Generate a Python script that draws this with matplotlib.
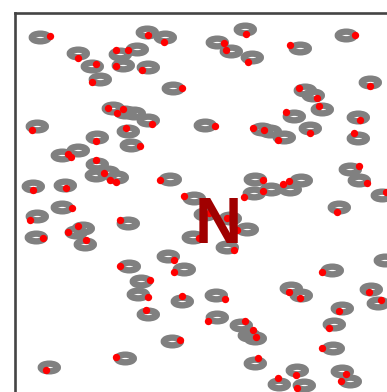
import numpy as np
import matplotlib
matplotlib.use("Agg")
import matplotlib.pyplot as plt
from matplotlib.path import Path

# ring centres (x to the right, y downward from the top-left corner of the frame)
ring_x = [25, 132, 150, 63, 105, 122, 108, 133, 77, 85, 158, 98, 110, 119, 133, 113, 116, 22, 190, 82,
          63, 47, 82, 81, 102, 93, 18, 50, 155, 179, 47, 22, 21, 68, 61, 70, 113, 153, 169, 114,
          126, 123, 133, 167, 157, 110, 34, 201, 202, 226, 234, 240, 240, 324, 317, 276, 286, 356, 363, 327,
          319, 318, 327, 335, 264, 282, 289, 230, 202, 216, 237, 285, 331, 355, 290, 298, 307, 279, 343, 295,
          343, 247, 255, 269, 335, 344, 367, 240, 256, 239, 275, 286, 370, 190, 215, 232, 178, 212]
ring_y = [25, 20, 25, 41, 42, 37, 53, 55, 54, 67, 76, 96, 100, 101, 108, 119, 133, 114, 113, 125,
          138, 143, 152, 163, 165, 160, 174, 173, 167, 186, 195, 204, 225, 216, 220, 232, 211, 244, 257, 254,
          269, 282, 302, 289, 329, 346, 355, 283, 305, 313, 323, 326, 351, 195, 258, 276, 283, 277, 291, 296,
          312, 336, 359, 369, 372, 358, 373, 17, 30, 39, 45, 36, 23, 70, 78, 83, 97, 104, 105, 116,
          126, 117, 119, 125, 157, 168, 183, 167, 177, 181, 177, 168, 248, 202, 206, 217, 225, 235]

# red points belonging to each ring
dot_x = [35, 133, 149, 63, 101, 113, 101, 127, 81, 77, 167, 93, 102, 108, 137, 111, 125, 17, 200, 81,
         53, 56, 81, 89, 101, 95, 18, 51, 145, 169, 57, 15, 28, 63, 53, 71, 105, 159, 159, 105,
         135, 133, 131, 167, 165, 101, 31, 210, 193, 230, 238, 241, 243, 322, 307, 274, 285, 354, 366, 324,
         314, 307, 331, 326, 263, 281, 282, 231, 209, 211, 233, 275, 340, 355, 284, 302, 304, 271, 345, 295,
         339, 238, 249, 263, 344, 352, 371, 248, 248, 229, 268, 274, 378, 194, 212, 222, 184, 219]
dot_y = [23, 22, 29, 45, 37, 37, 53, 57, 51, 69, 75, 95, 100, 96, 111, 115, 133, 117, 113, 128,
         141, 144, 147, 160, 169, 167, 177, 175, 167, 183, 195, 207, 225, 213, 219, 227, 207, 247, 259, 253,
         267, 284, 297, 283, 327, 344, 357, 286, 308, 308, 317, 324, 345, 199, 259, 279, 285, 279, 287, 298,
         315, 335, 361, 368, 365, 362, 375, 21, 30, 37, 49, 32, 22, 73, 75, 85, 93, 99, 107, 120,
         120, 115, 117, 127, 153, 170, 179, 167, 178, 184, 171, 168, 250, 200, 205, 217, 225, 237]

label = "N"

W, H = 387, 392
fig = plt.figure(figsize=(W / 100, H / 100), dpi=100)
ax = fig.add_axes([15.3 / W, 1 - (12.5 + 416) / H, 406 / W, 416 / H])
ax.set_xlim(0, 406)
ax.set_ylim(416, 0)

circ = Path.unit_circle()
ellipse = Path(circ.vertices * np.array([1.0, 0.45]), circ.codes)

ax.scatter(ring_x, ring_y, marker=ellipse, s=150, facecolors="none",
           edgecolors="#808080", linewidths=4.6, zorder=2)
ax.scatter(dot_x, dot_y, s=28, c="#ff0000", linewidths=0, zorder=3)

ax.text(203, 230.5, label, ha="center", va="baseline", fontsize=47,
        fontweight="bold", family="Liberation Sans", color="#a00000", zorder=4)

ax.set_xticks([])
ax.set_yticks([])
for sp in ax.spines.values():
    sp.set_color("#444444")
    sp.set_linewidth(1.9)

fig.savefig("out.png", dpi=100)
